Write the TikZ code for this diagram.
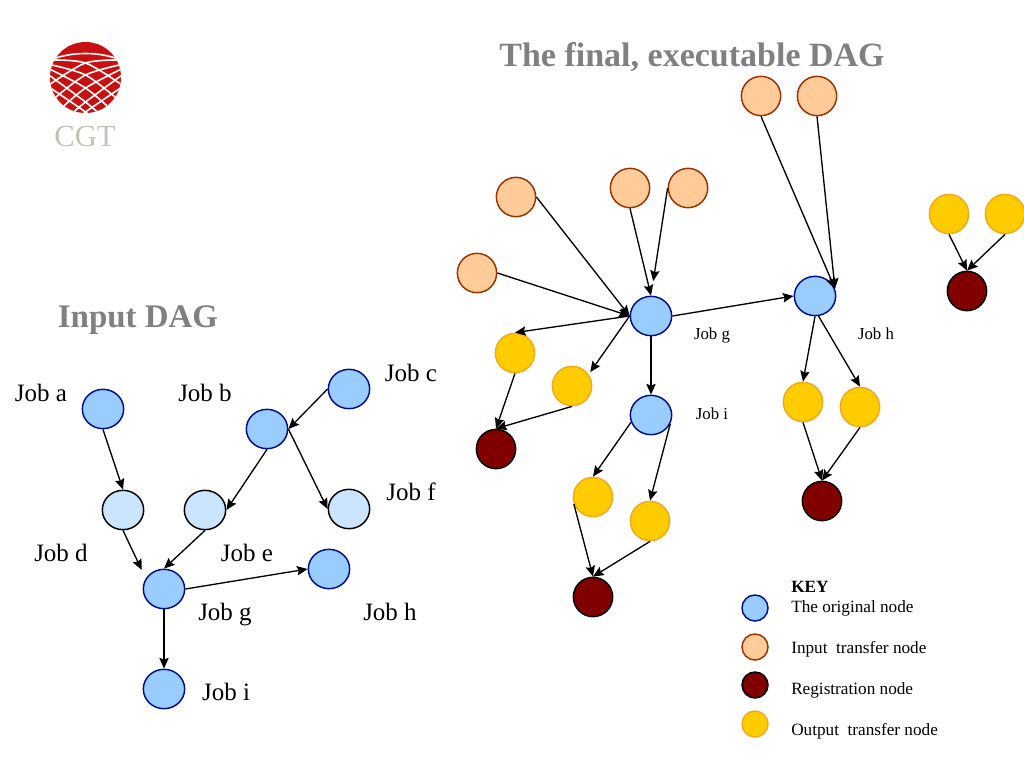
\documentclass[tikz,border=0pt]{standalone}
\usepackage{fontspec}
\setmainfont{Liberation Serif}
\usetikzlibrary{arrows.meta,shapes.geometric}
\definecolor{origblue}{HTML}{99CCFF}
\definecolor{origline}{HTML}{000E8C}
\definecolor{paleblue}{HTML}{CCE5FF}
\definecolor{inputfill}{HTML}{FFCC99}
\definecolor{inputline}{HTML}{993300}
\definecolor{outputfill}{HTML}{FFCC00}
\definecolor{outputline}{HTML}{F2A91E}
\definecolor{regfill}{HTML}{800000}
\definecolor{titlegray}{HTML}{808080}
\definecolor{logored}{HTML}{C81010}
\definecolor{logogray}{HTML}{C4C1B6}
\tikzset{
  dagnode/.style={ellipse,draw,line width=1.1pt,inner sep=0pt,minimum width=31pt,minimum height=29.5pt},
  orignode/.style={dagnode,fill=origblue,draw=origline},
  palenode/.style={dagnode,fill=paleblue,draw=black},
  inputnode/.style={dagnode,fill=inputfill,draw=inputline,minimum width=29.5pt},
  outputnode/.style={dagnode,fill=outputfill,draw=outputline,minimum width=29.5pt},
  regnode/.style={dagnode,fill=regfill,draw=black,minimum width=29.5pt},
  keymark/.style={minimum width=19.5pt,minimum height=19.5pt},
  edge/.style={-{Stealth[length=8pt,width=7pt,inset=1.2pt]},line width=1pt,black},
  title/.style={font=\fontsize{25.5}{30}\selectfont\bfseries,text=titlegray,inner sep=0pt},
  biglabel/.style={font=\fontsize{18.75}{22}\selectfont,inner sep=0pt},
  smalllabel/.style={font=\fontsize{12.6}{15}\selectfont,inner sep=0pt},
  keylabel/.style={font=\fontsize{12.9}{15}\selectfont,inner sep=0pt,anchor=west},
}
\begin{document}
\begin{tikzpicture}[x=0.75pt,y=0.75pt,yscale=-1,xscale=1]
    \useasboundingbox (0,0) rectangle (1024,768);

    % logo
    \begin{scope}
      \clip (85.5,77.5) circle [radius=35.5];
      \fill [logored] (45,40) rectangle (125,116);
      \draw [white,line width=1.2pt] (48,61) .. controls (70,51) and (101,51) .. (123,61);
      \foreach \mirror in {1,-1} {
        \begin{scope}[shift={(85.5,0)},xscale=\mirror]
          \foreach \yleft/\ymid/\xright/\yright in {86/112/6/118,74/102/14/114,68/88/26/110,64/75/33/100,60/63/38/86} {
            \draw [white,line width=1.2pt] plot [smooth] coordinates {(-38,\yleft) (0,\ymid) (\xright,\yright)};
          }
        \end{scope}
      }
    \end{scope}
    \node (logotext) [font=\fontsize{23}{27}\selectfont,text=logogray,inner sep=0pt] at (85,136) {CGT};

    \node (inputtitle) [title,font=\fontsize{24.7}{30}\selectfont\bfseries] at (138,320) {Input DAG};
    \node (finaltitle) [title] at (692,57) {The final, executable DAG};

    % input dag
    \node (joba) [orignode] at (103,409) {};
    \node (jobb) [orignode] at (267,429) {};
    \node (jobc) [orignode] at (349,389) {};
    \node (jobd) [palenode] at (123,510) {};
    \node (jobe) [palenode] at (205,510) {};
    \node (jobf) [palenode] at (349,509) {};
    \node (jobg) [orignode] at (164,589) {};
    \node (jobh) [orignode] at (329,569) {};
    \node (jobi) [orignode] at (164,689) {};

    \draw [edge] (joba.south) -- (jobd.north);
    \draw [edge] (jobc.west) -- (jobb.east);
    \draw [edge] (jobb.south) -- (jobe.east);
    \draw [edge] (jobb.east) -- (jobf.west);
    \draw [edge,shorten >=7pt] (jobd.south) -- (jobg.150);
    \draw [edge] (jobe.south) -- (jobg.north);
    \draw [edge] (jobg.east) -- (jobh.west);
    \draw [edge] (jobg) -- (jobi);

    \node (labela) [biglabel] at (41,393) {Job a};
    \node (labelb) [biglabel] at (205,393) {Job b};
    \node (labelc) [biglabel] at (411,373) {Job c};
    \node (labeld) [biglabel] at (61,553) {Job d};
    \node (labele) [biglabel] at (247,553) {Job e};
    \node (labelf) [biglabel] at (411,492) {Job f};
    \node (labelg) [biglabel] at (225,615) {Job g};
    \node (labelh) [biglabel] at (390,612) {Job h};
    \node (labeli) [biglabel] at (226,692) {Job i};

    % executable dag
    \node (finalg) [orignode] at (651,316) {};
    \node (finalh) [orignode] at (815,296) {};
    \node (finali) [orignode] at (651,415) {};

    \node (intopa) [inputnode] at (761,96) {};
    \node (intopb) [inputnode] at (817,96) {};
    \node (inleft) [inputnode] at (477,273) {};
    \node (inupper) [inputnode] at (516,197) {};
    \node (inmida) [inputnode] at (630,188) {};
    \node (inmidb) [inputnode] at (688,188) {};

    \node (outga) [outputnode] at (515,353) {};
    \node (outgb) [outputnode] at (572,386) {};
    \node (outha) [outputnode] at (803,402) {};
    \node (outhb) [outputnode] at (860,407) {};
    \node (outia) [outputnode] at (593,497) {};
    \node (outib) [outputnode] at (650,521) {};
    \node (outxa) [outputnode] at (949,214) {};
    \node (outxb) [outputnode] at (1005,214) {};

    \node (regg) [regnode] at (496,449) {};
    \node (regh) [regnode] at (822,501) {};
    \node (regi) [regnode] at (593,597) {};
    \node (regx) [regnode] at (967,291) {};

    \draw [edge] (intopa.south) -- (finalh.20);
    \draw [edge] (intopb.south) -- (finalh.20);
    \draw [edge] (inleft.east) -- (finalg.west);
    \draw [edge] (inupper.east) -- (finalg.west);
    \draw [edge] (inmida.south) -- (finalg.north);
    \draw [edge,shorten >=11pt] (inmidb.west) -- (finalg.north);
    \draw [edge] (finalg.east) -- (finalh.west);
    \draw [edge] (finalg.west) -- (outga.north);
    \draw [edge,shorten >=2pt] (finalg.west) -- (outgb.35);
    \draw [edge] (finalg.south) -- (finali.north);
    \draw [edge] (finali.200) -- (outia.north);
    \draw [edge] (finali.335) -- (outib.north);
    \draw [edge] (finalh.south) -- (outha.north);
    \draw [edge] (finalh.280) -- (outhb.north);
    \draw [edge] (outga.south) -- (regg.north);
    \draw [edge] (outgb.south) -- (regg.north);
    \draw [edge] (outha.south) -- (regh.north);
    \draw [edge] (outhb.south) -- (regh.north);
    \draw [edge] (outia.200) -- (regi.north);
    \draw [edge] (outib.south) -- (regi.north);
    \draw [edge] (outxa.south) -- (regx.north);
    \draw [edge] (outxb.south) -- (regx.north);

    \node (labelfg) [smalllabel] at (712,335) {Job g};
    \node (labelfh) [smalllabel] at (876,334) {Job h};
    \node (labelfi) [smalllabel] at (712,414) {Job i};

    % key
    \node (keyorig) [orignode,keymark] at (755,608) {};
    \node (keyinput) [inputnode,keymark] at (755,647) {};
    \node (keyreg) [regnode,keymark] at (755,685) {};
    \node (keyoutput) [outputnode,keymark] at (755,724) {};
    \node (keyhead) [keylabel,font=\fontsize{12.9}{15}\selectfont\bfseries] at (791,587) {KEY};
    \node (keytexta) [keylabel] at (791,608.5) {The original node};
    \node (keytextb) [keylabel] at (791,649) {Input\ \ transfer node};
    \node (keytextc) [keylabel] at (791,690) {Registration node};
    \node (keytextd) [keylabel] at (791,731) {Output\ \ transfer node};
\end{tikzpicture}
\end{document}
